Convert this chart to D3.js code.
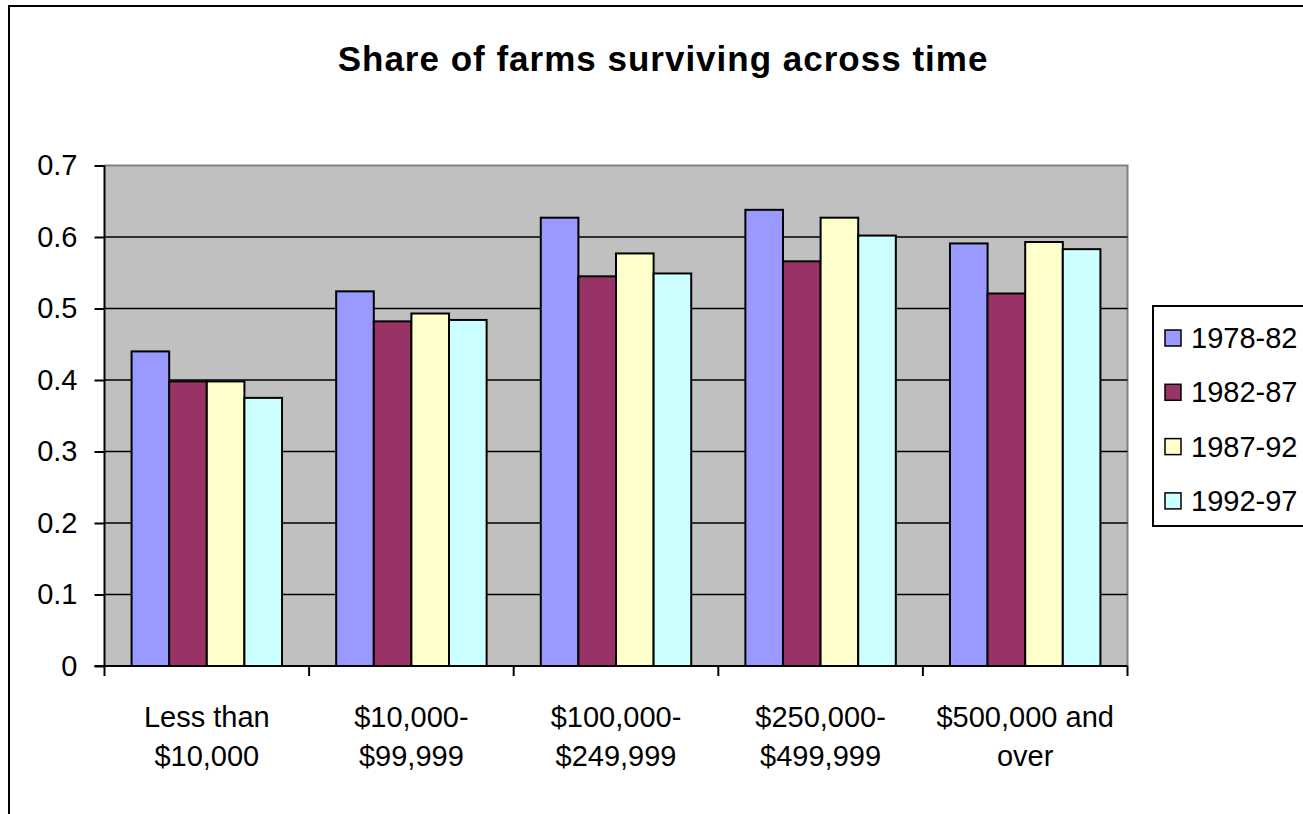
<!DOCTYPE html>
<html><head><meta charset="utf-8">
<script src="https://cdn.jsdelivr.net/npm/d3@7"></script>
<style>body{margin:0;background:#fff}svg{display:block}text{font-family:"Liberation Sans",Arial,sans-serif}</style>
</head><body>
<script>
const categories = [["Less than","$10,000"],["$10,000-","$99,999"],["$100,000-","$249,999"],["$250,000-","$499,999"],["$500,000 and","over"]];
const seriesNames = ["1978-82","1982-87","1987-92","1992-97"];
const colors = ["#9999FF","#993366","#FFFFCC","#CCFFFF"];
const s1978 = [0.440,0.524,0.627,0.638,0.591];
const s1982 = [0.398,0.482,0.545,0.566,0.521];
const s1987 = [0.398,0.493,0.577,0.627,0.593];
const s1992 = [0.375,0.484,0.549,0.602,0.583];
const yTicks = [0,0.1,0.2,0.3,0.4,0.5,0.6,0.7];
const series = [s1978,s1982,s1987,s1992];

const W=1303,H=814;
const svg=d3.select("body").append("svg").attr("width",W).attr("height",H);
svg.append("rect").attr("x",9).attr("y",6).attr("width",W+10).attr("height",H+10).attr("fill","#fff").attr("stroke","#000").attr("stroke-width",2);

const L=104.5,R=1127.5,T=165.5,B=666;
const x0=d3.scaleBand().domain(d3.range(categories.length)).range([L,R]).padding(0);
const x1=d3.scaleBand().domain(d3.range(series.length)).range([0,x0.bandwidth()]).paddingInner(0).paddingOuter(0.72);
const y=d3.scaleLinear().domain([0,0.7]).range([B,T]);

svg.append("rect").attr("x",L).attr("y",T).attr("width",R-L).attr("height",B-T).attr("fill","#C0C0C0");
svg.append("path").attr("d",`M${L},${T}H${R}V${B}`).attr("fill","none").attr("stroke","#808080").attr("stroke-width",2);
svg.append("g").selectAll("line").data(yTicks.filter(d=>d>0&&d<0.7)).join("line")
  .attr("x1",L).attr("x2",R).attr("y1",d=>y(d)).attr("y2",d=>y(d)).attr("stroke","#000").attr("stroke-width",1.5);

const g=svg.append("g");
categories.forEach((c,i)=>{
  series.forEach((s,j)=>{
    g.append("rect").attr("x",x0(i)+x1(j)).attr("y",y(s[i])).attr("width",x1.bandwidth()).attr("height",B-y(s[i]))
     .attr("fill",colors[j]).attr("stroke","#000").attr("stroke-width",2);
  });
});

const ya=svg.append("g").attr("transform",`translate(${L},0)`).call(d3.axisLeft(y).tickValues(yTicks).tickFormat(d=>d===0?"0":d3.format(".1f")(d)).tickSize(10).tickPadding(17));
ya.select(".domain").attr("stroke-width",2).attr("d",`M0,${T}V${B}`);
ya.selectAll("line").attr("stroke-width",2);
ya.selectAll("text").attr("font-size",29).attr("fill","#000").style("font-family","Liberation Sans, Arial");

const xa=svg.append("g").attr("transform",`translate(0,${B})`);
xa.append("line").attr("x1",L-10).attr("x2",R).attr("stroke","#000").attr("stroke-width",2);
d3.range(categories.length+1).forEach(i=>{
  const xx=i<categories.length?x0(i):R;
  xa.append("line").attr("x1",xx).attr("x2",xx).attr("y1",0).attr("y2",10).attr("stroke","#000").attr("stroke-width",2);
});
categories.forEach((c,i)=>{
  c.forEach((ln,k)=>{
    xa.append("text").attr("x",x0(i)+x0.bandwidth()/2).attr("y",61+k*39).attr("text-anchor","middle").attr("font-size",29).text(ln);
  });
});

svg.append("text").attr("x",663).attr("y",71).attr("text-anchor","middle").attr("font-size",35).attr("letter-spacing",1).attr("font-weight","bold").text("Share of farms surviving across time");

const lg=svg.append("g");
lg.append("rect").attr("x",1153).attr("y",306).attr("width",160).attr("height",220).attr("fill","#fff").attr("stroke","#000").attr("stroke-width",2);
seriesNames.forEach((n,j)=>{
  lg.append("rect").attr("x",1165).attr("y",330+j*54.3).attr("width",16).attr("height",16).attr("fill",colors[j]).attr("stroke","#000").attr("stroke-width",1.5);
  lg.append("text").attr("x",1191).attr("y",348+j*54.3).attr("font-size",29).text(n);
});
</script>
</body></html>
